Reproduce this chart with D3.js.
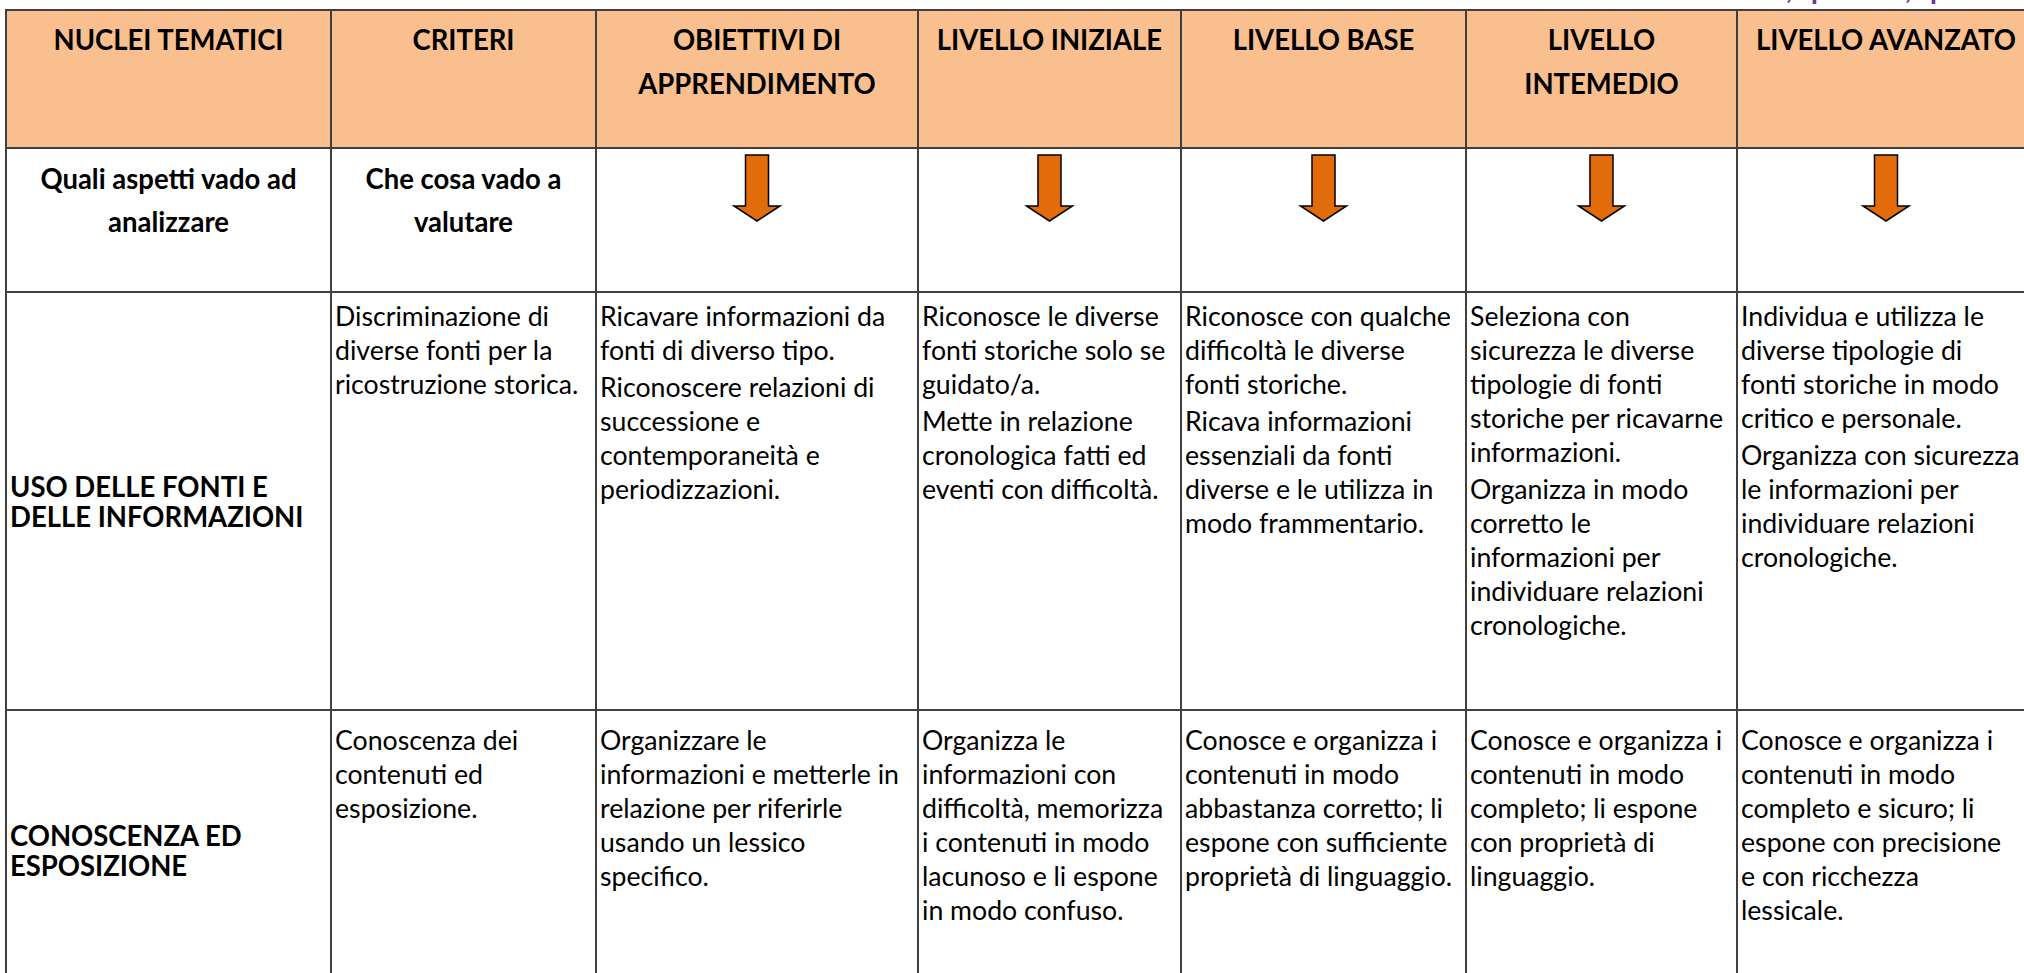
<!DOCTYPE html>
<html><head><meta charset="utf-8">
<script src="https://cdn.jsdelivr.net/npm/d3@7"></script>
<style>html,body{margin:0;padding:0;background:#fff;overflow:hidden}</style>
</head><body>
<script>
// ---------------- DATA ----------------
const headers = [["NUCLEI TEMATICI"], ["CRITERI"], ["OBIETTIVI DI", "APPRENDIMENTO"], ["LIVELLO INIZIALE"], ["LIVELLO BASE"], ["LIVELLO", "INTEMEDIO"], ["LIVELLO AVANZATO"]];
const guideRow = [["Quali aspetti vado ad", "analizzare"], ["Che cosa vado a", "valutare"]];
const arrowColumns = [2, 3, 4, 5, 6];
const nuclei = [["USO DELLE FONTI E", "DELLE INFORMAZIONI"], ["CONOSCENZA ED", "ESPOSIZIONE"]];
const criteri = [
  [["Discriminazione di", "diverse fonti per la", "ricostruzione storica."]],
  [["Conoscenza dei", "contenuti ed", "esposizione."]]
];
const obiettivi = [
  [["Ricavare informazioni da", "fonti di diverso tipo."], ["Riconoscere relazioni di", "successione e", "contemporaneità e", "periodizzazioni."]],
  [["Organizzare le", "informazioni e metterle in", "relazione per riferirle", "usando un lessico", "specifico."]]
];
const iniziale = [
  [["Riconosce le diverse", "fonti storiche solo se", "guidato/a."], ["Mette in relazione", "cronologica fatti ed", "eventi con difficoltà."]],
  [["Organizza le", "informazioni con", "difficoltà, memorizza", "i contenuti in modo", "lacunoso e li espone", "in modo confuso."]]
];
const base = [
  [["Riconosce con qualche", "difficoltà le diverse", "fonti storiche."], ["Ricava informazioni", "essenziali da fonti", "diverse e le utilizza in", "modo frammentario."]],
  [["Conosce e organizza i", "contenuti in modo", "abbastanza corretto; li", "espone con sufficiente", "proprietà di linguaggio."]]
];
const intermedio = [
  [["Seleziona con", "sicurezza le diverse", "tipologie di fonti", "storiche per ricavarne", "informazioni."], ["Organizza in modo", "corretto le", "informazioni per", "individuare relazioni", "cronologiche."]],
  [["Conosce e organizza i", "contenuti in modo", "completo; li espone", "con proprietà di", "linguaggio."]]
];
const avanzato = [
  [["Individua e utilizza le", "diverse tipologie di", "fonti storiche in modo", "critico e personale."], ["Organizza con sicurezza", "le informazioni per", "individuare relazioni", "cronologiche."]],
  [["Conosce e organizza i", "contenuti in modo", "completo e sicuro; li", "espone con precisione", "e con ricchezza", "lessicale."]]
];
const topNote = [", p", ", p"];

// ---------------- LAYOUT ----------------
const W = 2024, H = 973;
const colEdges = [6, 331, 596, 918, 1181, 1466, 1737, 2035];
const rowEdges = [10, 148, 292, 710, 1010];
const FONT = "Lato, 'Open Sans', sans-serif";
const BODY_SIZE = 26, BOLD_SIZE = 28.5;
const LINE_H = 34, PARA_GAP = 3;
const HEADER_FILL = "#F9BF8F", GRID = "#404040", ARROW_FILL = "#E36C0A";

const col = d3.scaleOrdinal().domain(d3.range(colEdges.length)).range(colEdges);

const svg = d3.select("body").append("svg").attr("width", W).attr("height", H)
  .style("display", "block");
svg.append("rect").attr("width", W).attr("height", H).attr("fill", "#fff");

// width calibration (Calibri-like widths)
function measure(str, size, weight) {
  const t = svg.append("text").attr("font-family", FONT).attr("font-size", size)
    .attr("font-weight", weight).text(str);
  const w = t.node().getComputedTextLength();
  t.remove();
  return w;
}
const kBody = 253 / measure("storiche per ricavarne", BODY_SIZE, 400);
const kBold = 260 / measure("LIVELLO AVANZATO", BOLD_SIZE, 700);

function addText(g, str, x, y, opts) {
  const bold = opts.bold;
  const t = g.append("text").attr("font-family", FONT)
    .attr("font-size", opts.size || (bold ? BOLD_SIZE : BODY_SIZE))
    .attr("font-weight", bold ? 700 : 400)
    .attr("fill", opts.fill || "#000")
    .attr("y", y).text(str);
  const w = t.node().getComputedTextLength() * (bold ? kBold : kBody) * (opts.size ? opts.size / BOLD_SIZE : 1) / (opts.size ? opts.size / BOLD_SIZE : 1);
  t.attr("textLength", w).attr("lengthAdjust", "spacingAndGlyphs");
  t.attr("x", opts.center ? x - w / 2 : x);
  return t;
}

// header background
const gFill = svg.append("g");
gFill.selectAll("rect").data(headers).join("rect")
  .attr("x", (d, i) => col(i)).attr("y", rowEdges[0])
  .attr("width", (d, i) => col(i + 1) - col(i)).attr("height", rowEdges[1] - rowEdges[0])
  .attr("fill", HEADER_FILL);

// purple clipped note at top
const gNote = svg.append("g");
topNote.forEach((s, i) => {
  const x0 = [1786, 1905][i];
  const t = gNote.append("text").attr("font-family", FONT).attr("font-size", 28)
    .attr("font-weight", 700).attr("fill", "#7030A0").attr("y", -1);
  t.append("tspan").attr("x", x0).text(s.slice(0, 1));
  t.append("tspan").attr("x", x0 + 25).text(s.slice(2));
});

const gText = svg.append("g");
// header labels
headers.forEach((lines, i) => {
  const cx = (col(i) + col(i + 1)) / 2;
  lines.forEach((s, j) => addText(gText, s, cx, 50 + j * 44, { bold: true, center: true }));
});
// guide row
guideRow.forEach((lines, i) => {
  const cx = (col(i) + col(i + 1)) / 2;
  lines.forEach((s, j) => addText(gText, s, cx, 189 + j * 43, { bold: true, center: true }));
});
// arrows
const ARW = { top: 155, neck: 206, tip: 221, shaft: 11.5, head: 23 };
arrowColumns.forEach(i => {
  const cx = (col(i) + col(i + 1)) / 2;
  const p = d3.path();
  p.moveTo(cx - ARW.shaft, ARW.top);
  p.lineTo(cx + ARW.shaft, ARW.top);
  p.lineTo(cx + ARW.shaft, ARW.neck);
  p.lineTo(cx + ARW.head, ARW.neck);
  p.lineTo(cx, ARW.tip);
  p.lineTo(cx - ARW.head, ARW.neck);
  p.lineTo(cx - ARW.shaft, ARW.neck);
  p.closePath();
  gText.append("path").attr("d", p.toString()).attr("fill", ARROW_FILL)
    .attr("stroke", "#000").attr("stroke-width", 1.5).attr("stroke-linejoin", "miter");
});
// nuclei labels
const nucleiBase = [497, 846];
nuclei.forEach((lines, r) => {
  lines.forEach((s, j) => addText(gText, s, col(0) + 4, nucleiBase[r] + j * 30, { bold: true }));
});
// body cells
const bodyCols = [criteri, obiettivi, iniziale, base, intermedio, avanzato];
const firstBase = [326, 750];
bodyCols.forEach((cells, ci) => {
  const c = ci + 1;
  cells.forEach((paras, r) => {
    let y = firstBase[r];
    paras.forEach((lines, pi) => {
      if (pi > 0) y += PARA_GAP;
      lines.forEach(s => { addText(gText, s, col(c) + 4, y, {}); y += LINE_H; });
    });
  });
});

// grid
const gGrid = svg.append("g").attr("stroke", GRID).attr("stroke-width", 2);
gGrid.selectAll("line.v").data(colEdges).join("line").attr("class", "v")
  .attr("x1", d => d).attr("x2", d => d).attr("y1", rowEdges[0] - 1).attr("y2", rowEdges[rowEdges.length - 1]);
gGrid.selectAll("line.h").data(rowEdges.slice(0, -1)).join("line").attr("class", "h")
  .attr("x1", colEdges[0] - 1).attr("x2", colEdges[colEdges.length - 1] + 1).attr("y1", d => d).attr("y2", d => d);
</script>
</body></html>
